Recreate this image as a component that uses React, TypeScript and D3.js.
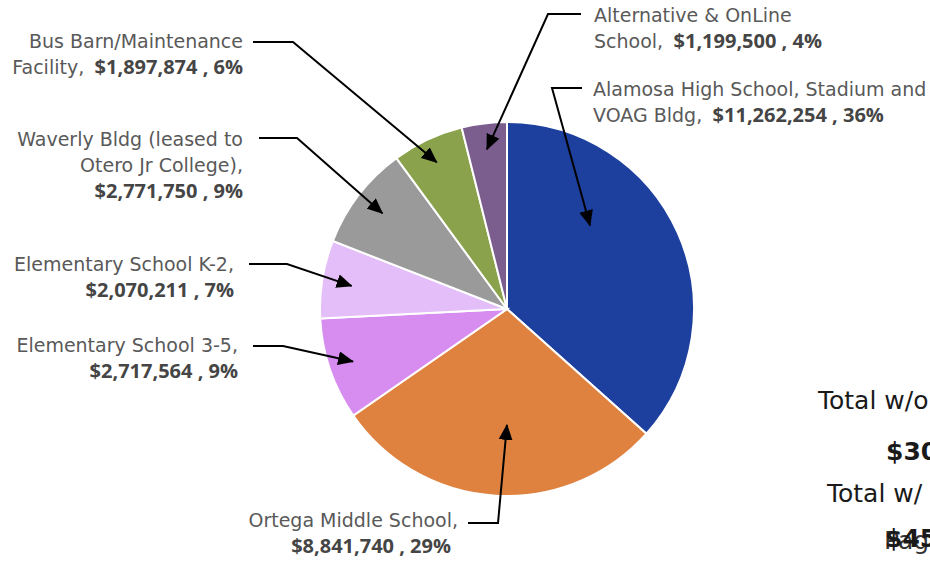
import React from "react";
import * as d3 from "d3";

const categories = [
  "Alamosa High School, Stadium and VOAG Bldg",
  "Ortega Middle School",
  "Elementary School 3-5",
  "Elementary School K-2",
  "Waverly Bldg (leased to Otero Jr College)",
  "Bus Barn/Maintenance Facility",
  "Alternative & OnLine School",
];
const values = [11262254, 8841740, 2717564, 2070211, 2771750, 1897874, 1199500];
const percentLabels = ["36%", "29%", "9%", "7%", "9%", "6%", "4%"];
const colors = ["#1d3f9e", "#df8240", "#d78df0", "#e4bef8", "#9a9a9a", "#89a24b", "#7b5e8e"];

// how each category name wraps, and whether the bold value sits on the last line
const labelLines = [
  ["Alamosa High School, Stadium and", "VOAG Bldg,"],
  ["Ortega Middle School,"],
  ["Elementary School 3-5,"],
  ["Elementary School K-2,"],
  ["Waverly Bldg (leased to", "Otero Jr College),"],
  ["Bus Barn/Maintenance", "Facility,"],
  ["Alternative & OnLine", "School,"],
];
const valueInline = [true, false, false, false, false, true, true];

// annotation layout (label anchor, leader start/elbow, arrow tip inside slice)
const layout = [
  { x: 593, y: 96, anchor: "start", vdx: 0, sx: 582, sy: 88, ex: 552, ey: 88, t: 0.34, rf: 0.63 },
  { x: 458, y: 527, anchor: "end", vdx: -7, sx: 468, sy: 523, ex: 498, ey: 523, t: 0.466, rf: 0.62 },
  { x: 238, y: 352, anchor: "end", vdx: 0, sx: 253, sy: 346, ex: 283, ey: 346, t: 0.5, rf: 0.87 },
  { x: 234, y: 271, anchor: "end", vdx: 0, sx: 249, sy: 264, ex: 287, ey: 264, t: 0.47, rf: 0.84 },
  { x: 243, y: 146, anchor: "end", vdx: 0, sx: 259, sy: 138, ex: 297, ey: 138, t: 0.5, rf: 0.84 },
  { x: 243, y: 48, anchor: "end", vdx: 0, sx: 253, sy: 42, ex: 293, ey: 42, t: 0.48, rf: 0.87 },
  { x: 594, y: 22, anchor: "start", vdx: 0, sx: 581, sy: 14, ex: 548, ey: 14, t: 0.49, rf: 0.86 },
];

const W = 930;
const H = 561;
const cx = 507;
const cy = 309;
const R = 187;
const LH = 26;
const FONT = "'DejaVu Sans', sans-serif";
const BOLD_FONT = "'Open Sans', sans-serif";

export default function App() {
  const pie = d3
    .pie<number>()
    .sort(null)
    .value((d) => d)
    .startAngle(0)
    .endAngle(2 * Math.PI);
  const arcs = pie(values);
  const arc = d3.arc<d3.PieArcDatum<number>>().innerRadius(0).outerRadius(R);
  const fmt = d3.format("$,");
  const total = d3.sum(values);

  return (
    <svg
      width={W}
      height={H}
      style={{ position: "absolute", left: 0, top: 0, background: "#fff" }}
    >
      <defs>
        <marker
          id="arrow"
          markerUnits="userSpaceOnUse"
          markerWidth={16}
          markerHeight={14}
          refX={15}
          refY={7}
          orient="auto"
        >
          <path d="M0,0 L16,7 L0,14 Z" fill="#000" />
        </marker>
      </defs>
      <g transform={`translate(${cx},${cy})`}>
        {arcs.map((a, i) => (
          <path key={i} d={arc(a) || ""} fill={colors[i]} stroke="#fff" strokeWidth={2} />
        ))}
      </g>
      {arcs.map((a, i) => {
        const L = layout[i];
        const ang = a.startAngle + L.t * (a.endAngle - a.startAngle);
        const tx = cx + L.rf * R * Math.sin(ang);
        const ty = cy - L.rf * R * Math.cos(ang);
        return (
          <path
            key={"l" + i}
            d={`M${L.sx},${L.sy} L${L.ex},${L.ey} L${tx},${ty}`}
            fill="none"
            stroke="#000"
            strokeWidth={2}
            markerEnd="url(#arrow)"
          />
        );
      })}
      {categories.map((c, i) => {
        const L = layout[i];
        const lines = labelLines[i];
        const val = `${fmt(values[i])} , ${percentLabels[i]}`;
        return (
          <text
            key={"t" + c}
            x={L.x}
            y={L.y}
            textAnchor={L.anchor as any}
            fontFamily={FONT}
            fontSize={19}
            fill="#595959"
          >
            {lines.map((ln, j) => {
              const last = j === lines.length - 1;
              return (
                <tspan key={j} x={L.x} y={L.y + j * LH}>
                  {ln}
                  {last && valueInline[i] ? (
                    <tspan fontFamily={BOLD_FONT} fontSize={20} fontWeight="bold" fill="#454545">
                      {"\u00a0\u00a0" + val}
                    </tspan>
                  ) : null}
                </tspan>
              );
            })}
            {!valueInline[i] ? (
              <tspan
                x={L.x + L.vdx}
                y={L.y + lines.length * LH}
                fontFamily={BOLD_FONT}
                fontSize={20}
                fontWeight="bold"
                fill="#454545"
              >
                {val}
              </tspan>
            ) : null}
          </text>
        );
      })}
      <g fontFamily="'DejaVu Sans', sans-serif" fontSize={25} fill="#1a1a1a">
        <text x={818} y={409}>Total w/o</text>
        <text x={886} y={460} fontWeight="bold">{fmt(total)}</text>
        <text x={827} y={502}>Total w/ Bond</text>
        <text x={884} y={549} fill="#333">Page</text>
        <text x={885} y={547} fontWeight="bold">$45</text>
      </g>
    </svg>
  );
}
